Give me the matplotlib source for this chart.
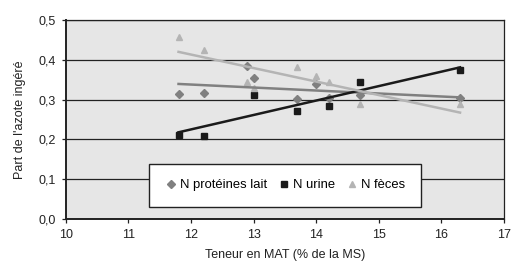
import matplotlib
matplotlib.use("Agg")
import matplotlib.pyplot as plt
import numpy as np
from matplotlib.lines import Line2D

plt.rcParams['font.family'] = ['Liberation Sans', 'DejaVu Sans']

x_lait = [11.8, 12.2, 12.9, 13.0, 13.7, 14.0, 14.2, 14.7, 16.3]
y_lait = [0.315, 0.316, 0.385, 0.354, 0.302, 0.338, 0.303, 0.312, 0.303]
x_urine = [11.8, 12.2, 13.0, 13.7, 14.2, 14.7, 16.3]
y_urine = [0.212, 0.209, 0.312, 0.272, 0.285, 0.343, 0.373]
x_feces = [11.8, 12.2, 12.9, 13.0, 13.7, 14.0, 14.2, 14.7, 16.3]
y_feces = [0.456, 0.424, 0.344, 0.330, 0.381, 0.358, 0.345, 0.288, 0.289]

labels = ["N protéines lait", "N urine", "N fèces"]
colors = ["#808080", "#1a1a1a", "#b4b4b4"]
markers = ["D", "s", "^"]
msizes = [4.5, 4.5, 5]

xticks = [10, 11, 12, 13, 14, 15, 16, 17]
yticks = [0.0, 0.1, 0.2, 0.3, 0.4, 0.5]

fig = plt.figure(figsize=(5.11, 2.73), dpi=100)
ax = fig.add_axes([0.129, 0.198, 0.857, 0.729])
ax.set_facecolor("#e6e6e6")

series = [(x_lait, y_lait), (x_urine, y_urine), (x_feces, y_feces)]
for (xs, ys), c, m, ms in zip(series, colors, markers, msizes):
    ax.plot(xs, ys, linestyle="none", marker=m, color=c, markersize=ms, zorder=3)
for (xs, ys), c in zip(series, colors):
    k, b = np.polyfit(xs, ys, 1)
    xr = np.array([min(xs), max(xs)])
    ax.plot(xr, k * xr + b, color=c, linewidth=1.8, zorder=4)

ax.set_xlim(10, 17)
ax.set_ylim(0, 0.5)
ax.set_xticks(xticks)
ax.set_yticks(yticks)
ax.set_xticklabels([str(t) for t in xticks], fontsize=9, color="#222222")
ax.set_yticklabels([f"{t:.1f}".replace(".", ",") for t in yticks], fontsize=9, color="#222222")
ax.yaxis.grid(True, color="#222222", linewidth=0.9)
ax.set_axisbelow(True)
for s in ax.spines.values():
    s.set_color("#222222")
    s.set_linewidth(0.9)
ax.spines['left'].set_linewidth(1.4)
ax.spines['bottom'].set_linewidth(1.4)
ax.tick_params(length=3, width=0.9, color="#222222", pad=4)
ax.set_xlabel("Teneur en MAT (% de la MS)", fontsize=9, color="#222222", labelpad=6)
ax.set_ylabel("Part de l'azote ingéré", fontsize=9, color="#222222", labelpad=9)

handles = [Line2D([], [], linestyle="none", marker=m, color=c, markersize=3.8)
           for c, m in zip(colors, markers)]
leg = ax.legend(handles, labels, loc="lower center", bbox_to_anchor=(0.5, 0.06), ncol=3,
                frameon=True, fancybox=False, fontsize=9.4, handletextpad=0.2,
                columnspacing=0.8, handlelength=1.0, borderpad=1.2, borderaxespad=0)
leg.get_frame().set_edgecolor("#222222")
leg.get_frame().set_linewidth(1.0)
leg.get_frame().set_facecolor("white")
leg.get_frame().set_alpha(1)
leg.set_zorder(5)

fig.savefig("out.png", dpi=100)
